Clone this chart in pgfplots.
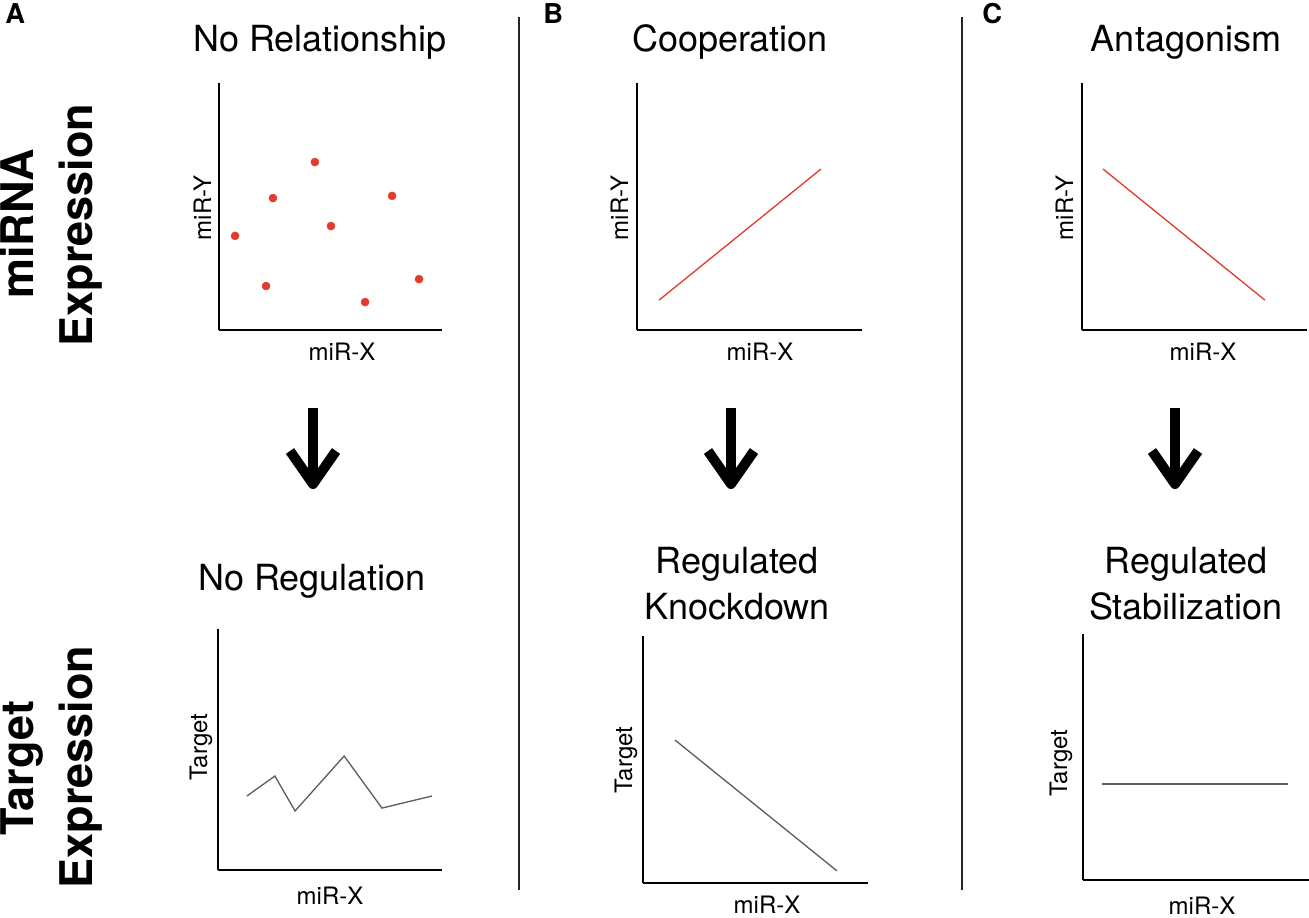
\documentclass[border=0pt]{standalone}
\usepackage{pgfplots}
\pgfplotsset{compat=1.18}
\usepackage{fontspec}
\setmainfont{TeX Gyre Heros}
\definecolor{myred}{HTML}{E23D2C}
\definecolor{mygray}{HTML}{5E5E5E}
\newcommand{\ttl}{\fontsize{27}{32}\selectfont}
\newcommand{\lab}{\fontsize{18}{22}\selectfont}
\newcommand{\rowlab}{\fontsize{33.75}{40}\selectfont\bfseries}
\newcommand{\pl}{\fontsize{20.5}{24}\selectfont\bfseries}
\pgfplotsset{
  mini/.style={scale only axis, anchor=south west,
    axis lines=left, axis line style={-, line width=1.1pt, black},
    xtick=\empty, ytick=\empty, xmin=0, xmax=10, ymin=0, ymax=10,
    clip=false},
}
\begin{document}
\begin{tikzpicture}[x=0.75pt,y=-0.75pt]
\path[use as bounding box] (0,0) rectangle (1309,917);
\clip (0,0) rectangle (1309,917);

% ---------- top row ----------
\begin{axis}[mini, at={(164.25pt,-247.5pt)}, width=167.25pt, height=185.25pt]
\addplot[only marks, mark=*, mark size=3pt, myred] coordinates {
 (0.72,3.81) (2.42,5.34) (4.30,6.80) (5.02,4.21)
 (7.76,5.43) (2.11,1.78) (6.55,1.13) (8.97,2.06)};
\end{axis}
\begin{axis}[mini, at={(477.75pt,-247.5pt)}, width=168.75pt, height=185.25pt]
\addplot[myred, line width=1pt] coordinates {(0.98,1.21) (8.18,6.52)};
\end{axis}
\begin{axis}[mini, at={(811.5pt,-247.5pt)}, width=168.75pt, height=185.25pt]
\addplot[myred, line width=1pt] coordinates {(0.93,6.52) (8.13,1.21)};
\end{axis}

% ---------- bottom row ----------
\begin{axis}[mini, at={(163.5pt,-652.5pt)}, width=168pt, height=180.75pt]
\addplot[mygray, line width=1pt] coordinates {
 (1.29,3.07) (2.54,3.90) (3.44,2.45) (5.63,4.73) (7.32,2.57) (9.55,3.07)};
\end{axis}
\begin{axis}[mini, at={(482.25pt,-662.25pt)}, width=168.75pt, height=185.25pt]
\addplot[mygray, line width=1pt] coordinates {(1.42,5.79) (8.62,0.49)};
\end{axis}
\begin{axis}[mini, at={(812.25pt,-660pt)}, width=169.5pt, height=184.5pt]
\addplot[mygray, line width=1pt] coordinates {(0.84,3.90) (9.07,3.90)};
\end{axis}

% ---------- dividers ----------
\draw[line width=1.4pt, black!85] (519,17) -- (519,890);
\draw[line width=1.4pt, black!85] (962,17) -- (962,890);

% ---------- arrows ----------
\foreach \ax in {313,731,1175}{
  \draw[line width=7.5pt, line cap=butt] (\ax,408) -- (\ax,484);
  \draw[line width=7.5pt, line cap=butt, line join=round]
     (\ax-23,451) -- (\ax,484) -- (\ax+23,451);
}

% ---------- panel letters ----------
\node[anchor=base west, inner sep=0pt] at (5,24) {\pl A};
\node[anchor=base west, inner sep=0pt] at (543,24) {\pl B};
\node[anchor=base west, inner sep=0pt] at (982,24) {\pl C};

% ---------- row labels ----------
\node[rotate=90, anchor=base, inner sep=0pt] at (33,224) {\rowlab miRNA};
\node[rotate=90, anchor=base, inner sep=0pt] at (92,225) {\rowlab Expression};
\node[rotate=90, anchor=base, inner sep=0pt] at (33,768) {\rowlab Target};
\node[rotate=90, anchor=base, inner sep=0pt] at (92,767) {\rowlab Expression};

% ---------- titles ----------
\node[anchor=base, inner sep=0pt] at (320,52) {\ttl No Relationship};
\node[anchor=base, inner sep=0pt] at (730,52) {\ttl Cooperation};
\node[anchor=base, inner sep=0pt] at (1186,52) {\ttl Antagonism};
\node[anchor=base, inner sep=0pt] at (312,590) {\ttl No Regulation};
\node[anchor=base, inner sep=0pt] at (737,573) {\ttl Regulated};
\node[anchor=base, inner sep=0pt] at (737,619) {\ttl Knockdown};
\node[anchor=base, inner sep=0pt] at (1186,573) {\ttl Regulated};
\node[anchor=base, inner sep=0pt] at (1186,619) {\ttl Stabilization};

% ---------- axis labels ----------
\node[anchor=base, inner sep=0pt] at (342,360) {\lab miR-X};
\node[anchor=base, inner sep=0pt] at (760,360) {\lab miR-X};
\node[anchor=base, inner sep=0pt] at (1203,360) {\lab miR-X};
\node[anchor=base, inner sep=0pt] at (330,904) {\lab miR-X};
\node[anchor=base, inner sep=0pt] at (767,913) {\lab miR-X};
\node[anchor=base, inner sep=0pt] at (1202,914) {\lab miR-X};
\node[rotate=90, anchor=base, inner sep=0pt] at (211,208) {\lab miR-Y};
\node[rotate=90, anchor=base, inner sep=0pt] at (628,208) {\lab miR-Y};
\node[rotate=90, anchor=base, inner sep=0pt] at (1073,208) {\lab miR-Y};
\node[rotate=90, anchor=base, inner sep=0pt] at (207,747) {\lab Target};
\node[rotate=90, anchor=base, inner sep=0pt] at (632,760) {\lab Target};
\node[rotate=90, anchor=base, inner sep=0pt] at (1067,763) {\lab Target};
\end{tikzpicture}
\end{document}
